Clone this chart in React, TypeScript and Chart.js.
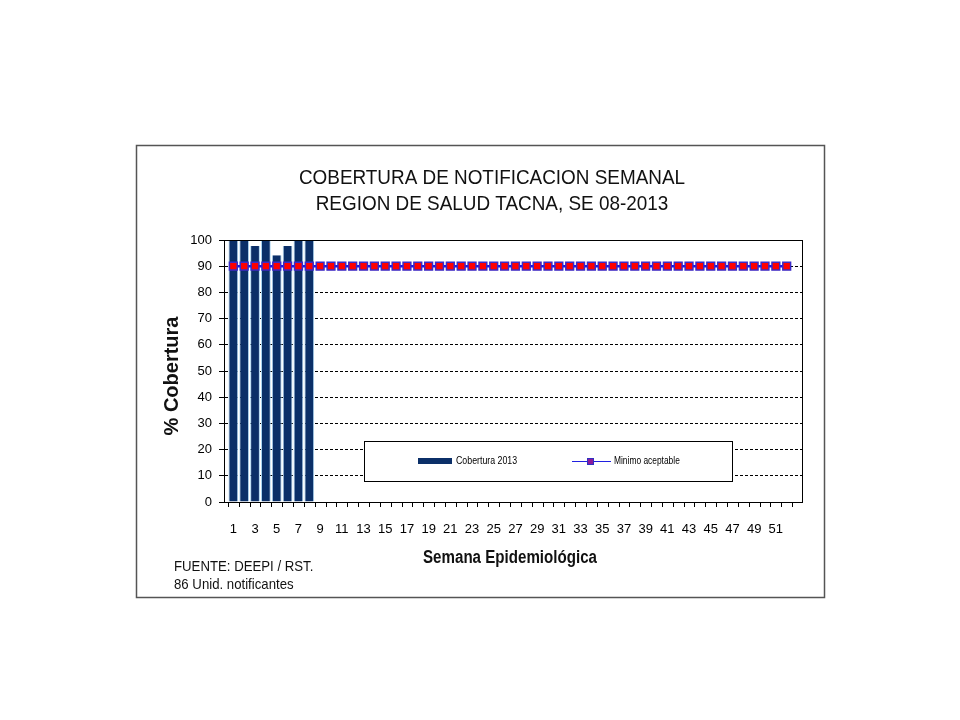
import React, { useEffect, useRef } from "react";
import { Chart, registerables } from "chart.js";

Chart.register(...registerables);

const weeks = [
  1, 2, 3, 4, 5, 6, 7, 8, 9, 10, 11, 12, 13, 14, 15, 16, 17, 18, 19, 20, 21, 22, 23, 24, 25, 26,
  27, 28, 29, 30, 31, 32, 33, 34, 35, 36, 37, 38, 39, 40, 41, 42, 43, 44, 45, 46, 47, 48, 49, 50, 51, 52,
];
const coverage2013 = [100, 100, 97.7, 100, 94.2, 97.7, 100, 100];
const minimumAcceptable = [
  90, 90, 90, 90, 90, 90, 90, 90, 90, 90, 90, 90, 90, 90, 90, 90, 90, 90, 90, 90, 90, 90, 90, 90, 90, 90,
  90, 90, 90, 90, 90, 90, 90, 90, 90, 90, 90, 90, 90, 90, 90, 90, 90, 90, 90, 90, 90, 90, 90, 90, 90, 90,
];
const titleLines = ["COBERTURA DE NOTIFICACION SEMANAL", "REGION DE SALUD TACNA, SE 08-2013"];
const yAxisTitle = "% Cobertura";
const xAxisTitle = "Semana Epidemiológica";
const sourceLines = ["FUENTE: DEEPI / RST.", "86 Unid. notificantes"];
const seriesNames = ["Cobertura 2013", "Minimo aceptable"];

const SANS = "'Liberation Sans', Arial, sans-serif";
const BAR_COLOR = "#0B2F68";

function narrowText(ctx: any, text: string, x: number, y: number, font: string, align: string, sx: number) {
  ctx.save();
  ctx.translate(x, y);
  ctx.scale(sx, 1);
  ctx.font = font;
  ctx.textAlign = align;
  ctx.textBaseline = "middle";
  ctx.fillText(text, 0, 0);
  ctx.restore();
}

const decorPlugin = {
  id: "decor",
  beforeDraw(chart: any) {
    const ctx = chart.ctx;
    ctx.save();
    ctx.fillStyle = "#ffffff";
    ctx.fillRect(0, 0, chart.width, chart.height);
    ctx.restore();
  },
  afterDatasetsDraw(chart: any) {
    const ctx = chart.ctx;
    const ca = chart.chartArea;
    const xs = chart.scales.x;
    ctx.save();
    // plot frame
    ctx.strokeStyle = "#000";
    ctx.lineWidth = 1;
    ctx.strokeRect(Math.round(ca.left) + 0.5, Math.round(ca.top) + 0.5, Math.round(ca.right - ca.left), Math.round(ca.bottom - ca.top));
    // x tick marks at category boundaries
    ctx.beginPath();
    [0, ...weeks].forEach((w) => {
      const px = Math.round(xs.getPixelForValue(w + 0.5)) + 0.5;
      ctx.moveTo(px, ca.bottom);
      ctx.lineTo(px, ca.bottom + 5);
    });
    ctx.stroke();

    // legend box
    const lx = 364, ly = 441, lw = 368, lh = 40;
    ctx.fillStyle = "#fff";
    ctx.fillRect(lx, ly, lw, lh);
    ctx.strokeStyle = "#000";
    ctx.lineWidth = 1;
    ctx.strokeRect(lx + 0.5, ly + 0.5, lw, lh);
    const my = ly + 20;
    ctx.fillStyle = BAR_COLOR;
    ctx.fillRect(418, my - 3, 34, 6);
    ctx.fillStyle = "#000";
    narrowText(ctx, seriesNames[0], 456, my, `10px ${SANS}`, "left", 0.88);
    ctx.strokeStyle = "#2020E0";
    ctx.beginPath();
    ctx.moveTo(572, my + 0.5);
    ctx.lineTo(611, my + 0.5);
    ctx.stroke();
    ctx.fillStyle = "#8B1A9B";
    ctx.fillRect(588, my - 2, 5, 5);
    ctx.strokeStyle = "#3030C0";
    ctx.strokeRect(587.5, my - 2.5, 6, 6);
    ctx.fillStyle = "#000";
    narrowText(ctx, seriesNames[1], 614, my, `10px ${SANS}`, "left", 0.84);

    // titles
    ctx.fillStyle = "#111";
    narrowText(ctx, titleLines[0], 492, 178, `21px ${SANS}`, "center", 0.9);
    narrowText(ctx, titleLines[1], 492, 204, `21px ${SANS}`, "center", 0.9);

    // axis titles
    narrowText(ctx, xAxisTitle, 510, 558, `bold 18px ${SANS}`, "center", 0.84);
    ctx.save();
    ctx.translate(172, 376);
    ctx.rotate(-Math.PI / 2);
    narrowText(ctx, yAxisTitle, 0, 0, `bold 20px ${SANS}`, "center", 1.0);
    ctx.restore();

    // footnote
    narrowText(ctx, sourceLines[0], 174, 567, `15px ${SANS}`, "left", 0.88);
    narrowText(ctx, sourceLines[1], 174, 585, `15px ${SANS}`, "left", 0.88);

    // outer frame
    ctx.strokeStyle = "#555";
    ctx.lineWidth = 1.5;
    ctx.strokeRect(136.5, 145.5, 688, 452);
    ctx.restore();
  },
};

export default function App() {
  const ref = useRef<HTMLCanvasElement>(null);
  useEffect(() => {
    document.body.style.margin = "0";
    const canvas = ref.current;
    if (!canvas) return;
    const chart = new Chart(canvas, {
      type: "bar",
      data: {
        datasets: [
          {
            type: "line",
            label: seriesNames[1],
            data: weeks.map((w, i) => ({ x: w, y: minimumAcceptable[i] })),
            borderColor: "#1414F0",
            borderWidth: 2.5,
            pointStyle: "rect",
            pointRadius: 5.5,
            pointBackgroundColor: "#FF0000",
            pointBorderColor: "#3A2AC8",
            pointBorderWidth: 1.5,
            order: 0,
          } as any,
          {
            type: "bar",
            label: seriesNames[0],
            data: coverage2013.map((v, i) => ({ x: weeks[i], y: v })),
            backgroundColor: BAR_COLOR,
            borderColor: "#A9D3F0",
            borderWidth: { left: 1, right: 1, top: 0, bottom: 0 },
            borderSkipped: false,
            barPercentage: 0.9,
            categoryPercentage: 1,
            order: 1,
          } as any,
        ],
      },
      options: {
        responsive: false,
        animation: false,
        devicePixelRatio: 1,
        layout: { padding: { left: 158, right: 158, top: 240, bottom: 178 } },
        plugins: { legend: { display: false }, tooltip: { enabled: false }, title: { display: false } },
        scales: {
          x: {
            type: "linear",
            offset: false,
            min: 0.14,
            max: 53.41,
            grid: { display: false, drawTicks: false, offset: false },
            border: { display: true, color: "#000", width: 1 },
            ticks: {
              color: "#000",
              font: { family: SANS, size: 13 },
              padding: 20,
              autoSkip: false,
              maxRotation: 0,
              callback: (v: any) => String(v),
            },
            afterBuildTicks: (s: any) => {
              s.ticks = weeks.filter((w) => w % 2 === 1).map((w) => ({ value: w }));
            },
            afterFit: (s: any) => {
              s.height = 40;
            },
          },
          y: {
            min: 0,
            max: 100,
            ticks: { stepSize: 10, color: "#000", font: { family: SANS, size: 13 }, padding: 7 },
            grid: {
              color: (c: any) => (c.tick && (c.tick.value === 0 || c.tick.value === 100) ? "rgba(0,0,0,0)" : "#000"),
              tickColor: "#000",
              tickLength: 5,
              lineWidth: 1,
            },
            border: { display: true, color: "#000", width: 1, dash: [3, 2] },
            afterFit: (s: any) => {
              s.width = 66;
            },
          },
        },
      } as any,
      plugins: [decorPlugin],
    });
    return () => chart.destroy();
  }, []);
  return (
    <div style={{ position: "absolute", left: 0, top: 0, width: 960, height: 720, background: "#fff" }}>
      <canvas ref={ref} width={960} height={720} style={{ width: 960, height: 720, display: "block" }} />
    </div>
  );
}
